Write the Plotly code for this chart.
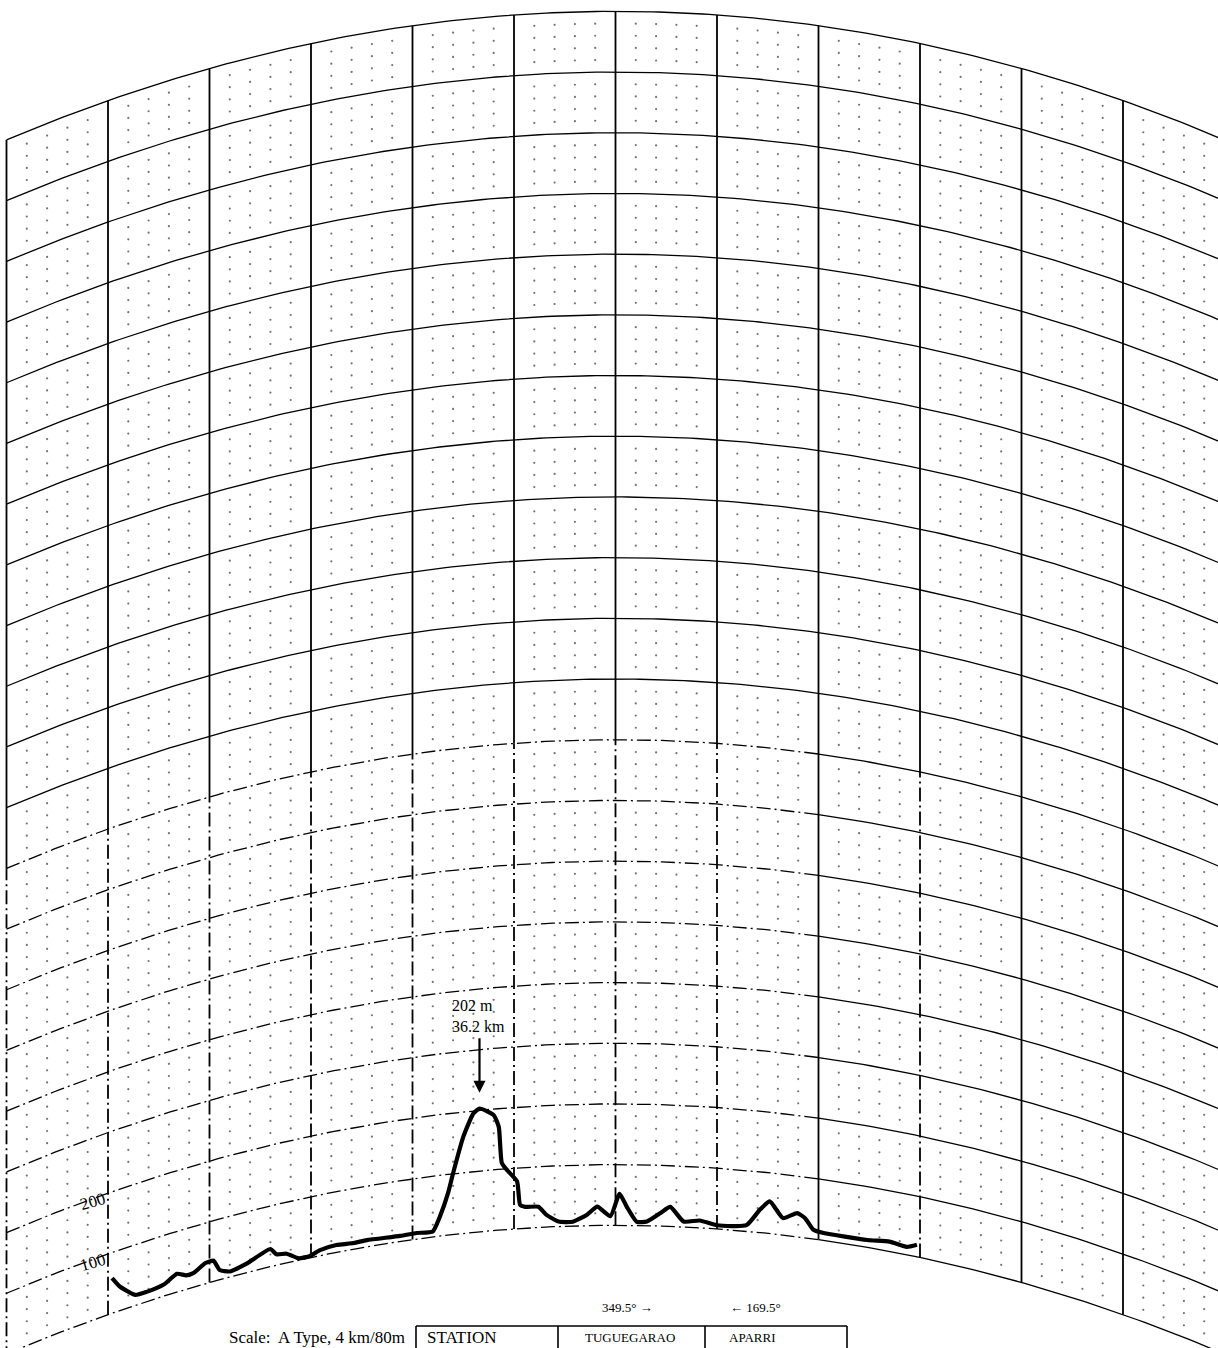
import numpy as np
import plotly.graph_objects as go

# ---------------- data ----------------
profile_km = [0.4, 1.2, 2.7, 3.8, 5.5, 6.8, 7.7, 8.4, 9.6, 10.4, 11.0, 12.0, 13.7, 16.0,
              16.6, 17.6, 18.8, 19.9, 20.9, 22.5, 24.2, 25.5, 28.8, 30.4, 32.0, 32.7,
              33.5, 34.0, 35.0, 36.0, 36.6, 38.0, 38.5, 38.8, 39.3, 40.3, 40.6, 41.1,
              42.4, 43.2, 44.4, 45.8, 47.2, 48.2, 49.5, 50.4, 51.1, 52.1, 53.1, 54.4,
              55.4, 56.7, 58.3, 60.0, 62.9, 64.2, 65.2, 66.5, 67.9, 68.7, 69.5, 70.5,
              74.8, 77.0, 78.7, 79.7]
profile_m = [58, 39, 17, 16, 19, 30, 23, 23, 34, 34, 16, 9, 15, 29,
             18, 15, 3, 3, 9, 12, 10, 11, 9, 10, 9, 32,
             69, 101, 159, 196, 203, 190, 170, 110, 98, 78, 39, 35,
             34, 20, 8, 7, 18, 31, 15, 52, 31, 6, 7, 21,
             32, 9, 12, 6, 10, 37, 53, 28, 39, 32, 15, 12,
             12, 16, 13, 20]

peak_label = "202 m<br>36.2 km"
peak_km = 36.6
peak_m = 203

arc_levels_m = list(range(0, 2001, 100))
grid_km = list(range(-10, 111, 10))
level_labels = {100: "100", 200: "200"}
bearing_labels = ["349.5\u00b0 \u2192", "\u2190 169.5\u00b0"]
table_cells = ["STATION", "TUGUEGARAO", "APARRI"]
scale_text = "Scale:  A Type, 4 km/80m"

# ---------------- curved-earth geometry ----------------
K_FACTOR = 4.0 / 3.0
EARTH_R_KM = 6371.0
D_START, D_END = -10.0, 110.0


def bulge(d):
    d = np.asarray(d, dtype=float)
    return (d - D_START) * (D_END - d) / (2 * K_FACTOR * EARTH_R_KM) * 1000.0


W, H = 1218, 1348
X_RANGE = [-10.64, 109.36]
Y_RANGE = [9.8, 2230.6]

DASH = "14px,4px,2px,4px"
DASH_LEVEL = 800
fig = go.Figure()

# minor dotted grid
dot_x, dot_y = [], []
for d in range(-8, 113, 2):
    if d % 10 == 0:
        continue
    for h in range(20, 2000, 20):
        if h % 100 == 0:
            continue
        dot_x.append(d)
        dot_y.append(h + float(bulge(d)))
fig.add_trace(go.Scatter(x=dot_x, y=dot_y, mode="markers",
                         marker=dict(size=2.2, color="rgba(0,0,0,0.55)"),
                         hoverinfo="skip", showlegend=False))

# arcs
for h in arc_levels_m:
    if h <= DASH_LEVEL:
        d1 = np.linspace(D_START, 70, 120)
        d2 = np.linspace(70, 113, 60)
        fig.add_trace(go.Scatter(x=d1, y=h + bulge(d1), mode="lines",
                                 line=dict(color="black", width=1.3, dash=DASH),
                                 hoverinfo="skip", showlegend=False))
        fig.add_trace(go.Scatter(x=d2, y=h + bulge(d2), mode="lines",
                                 line=dict(color="black", width=1.3),
                                 hoverinfo="skip", showlegend=False))
    else:
        d = np.linspace(D_START, 113, 200)
        fig.add_trace(go.Scatter(x=d, y=h + bulge(d), mode="lines",
                                 line=dict(color="black", width=1.3),
                                 hoverinfo="skip", showlegend=False))

# vertical distance lines
top = arc_levels_m[-1]
for d in grid_km:
    b = float(bulge(d))
    bottom = b if d != D_START else -50
    dashed = (d <= 60) or (d == 80)
    if dashed:
        fig.add_trace(go.Scatter(x=[d, d], y=[b + DASH_LEVEL, b + top], mode="lines",
                                 line=dict(color="black", width=1.8),
                                 hoverinfo="skip", showlegend=False))
        fig.add_trace(go.Scatter(x=[d, d], y=[bottom, b + DASH_LEVEL], mode="lines",
                                 line=dict(color="black", width=1.8, dash=DASH),
                                 hoverinfo="skip", showlegend=False))
    else:
        fig.add_trace(go.Scatter(x=[d, d], y=[bottom, b + top], mode="lines",
                                 line=dict(color="black", width=1.8),
                                 hoverinfo="skip", showlegend=False))

# terrain profile
pk = np.array(profile_km)
pm = np.array(profile_m)
fig.add_trace(go.Scatter(x=pk, y=pm + bulge(pk), mode="lines",
                         line=dict(color="black", width=4.2, shape="spline", smoothing=0.5),
                         hoverinfo="skip", showlegend=False))

serif = "Liberation Serif"
ann = []


def P(x, y):
    return x / W, 1 - y / H


# peak annotation: arrow + label
ann.append(dict(x=peak_km, y=peak_m + float(bulge(peak_km)) + 26, xref="x", yref="y",
                text="", showarrow=True, ax=0, ay=-56, axref="pixel", ayref="pixel",
                arrowhead=2, arrowsize=1.1, arrowwidth=2.2, arrowcolor="black", standoff=0))
tx, ty = P(451, 1016)
ann.append(dict(x=tx, y=ty, xref="paper", yref="paper", text=peak_label,
                xanchor="left", yanchor="middle", align="left", showarrow=False,
                borderpad=0,
                font=dict(family=serif, size=16, color="black")))

# level labels
for lv, txt in level_labels.items():
    ann.append(dict(x=-1.5, y=lv + float(bulge(-1.5)), xref="x", yref="y", text=txt,
                    showarrow=False, yshift=-3, textangle=-16,
                    xanchor="center", yanchor="middle",
                    font=dict(family=serif, size=17, color="black")))

bx, by = P(627, 1307)
ann.append(dict(x=bx, y=by, xref="paper", yref="paper", text=bearing_labels[0],
                xanchor="center", yanchor="middle",
                showarrow=False, font=dict(family=serif, size=13, color="black")))
bx, by = P(755, 1307)
ann.append(dict(x=bx, y=by, xref="paper", yref="paper", text=bearing_labels[1],
                xanchor="center", yanchor="middle",
                showarrow=False, font=dict(family=serif, size=13, color="black")))

# scale text and table
sx, sy = P(406, 1337)
ann.append(dict(x=sx, y=sy, xref="paper", yref="paper", text=scale_text,
                xanchor="right", yanchor="middle", borderpad=0,
                showarrow=False, font=dict(family=serif, size=17, color="black")))
cell_pos = [(426, 1337, 17, "left"), (630, 1337, 13, "center"), (752, 1337, 13, "center")]
for txt, (cx, cy, fs, al) in zip(table_cells, cell_pos):
    px_, py_ = P(cx, cy)
    ann.append(dict(x=px_, y=py_, xref="paper", yref="paper", text=txt,
                    xanchor="left" if al == "left" else "center", yanchor="middle",
                    borderpad=0,
                    showarrow=False, font=dict(family=serif, size=fs, color="black")))

shapes = []
x0, y0 = P(416, 1326)
x1, _ = P(847, 1326)
shapes.append(dict(type="line", xref="paper", yref="paper", x0=x0, x1=x1, y0=y0, y1=y0,
                   line=dict(color="black", width=1.6)))
for vx in [416, 558, 705, 847]:
    a, b = P(vx, 1326)
    _, c = P(vx, 1360)
    shapes.append(dict(type="line", xref="paper", yref="paper", x0=a, x1=a, y0=b, y1=c,
                       line=dict(color="black", width=1.6)))

fig.update_layout(
    width=W, height=H, autosize=False,
    margin=dict(l=0, r=0, t=0, b=0, pad=0),
    paper_bgcolor="white", plot_bgcolor="white",
    xaxis=dict(range=X_RANGE, visible=False, fixedrange=True),
    yaxis=dict(range=Y_RANGE, visible=False, fixedrange=True),
    annotations=ann, shapes=shapes, showlegend=False,
)

fig.write_html("out.html")
